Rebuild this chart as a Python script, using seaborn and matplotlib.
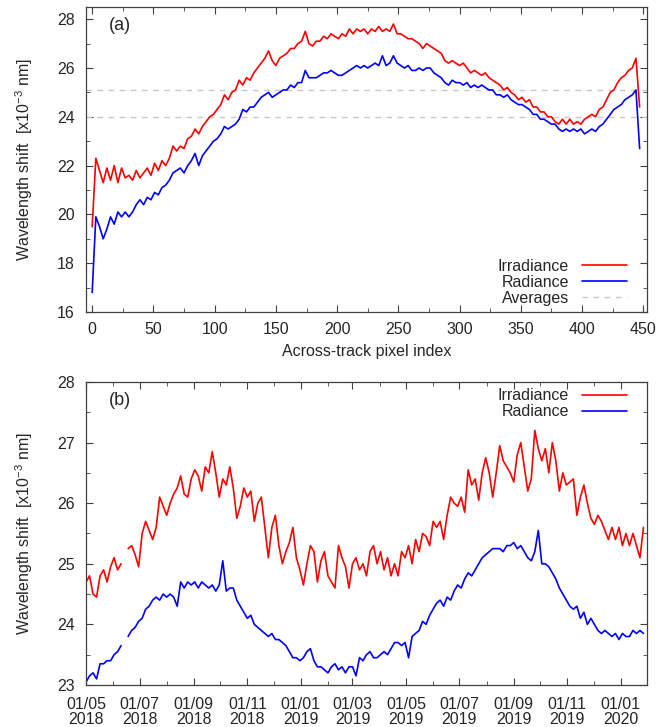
import numpy as np
import pandas as pd
import seaborn as sns
import matplotlib.pyplot as plt
import matplotlib.dates as mdates
from matplotlib.lines import Line2D
from matplotlib.ticker import MultipleLocator

# (a) wavelength shift per across-track pixel, every 3rd pixel
pixel_index = np.arange(0, 450, 3)
irr_pixel = [
    19.5, 22.3, 21.8, 21.3, 21.9, 21.4, 22.0, 21.3, 21.9, 21.5,
    21.6, 21.4, 21.8, 21.5, 21.7, 21.9, 21.6, 22.1, 21.8, 22.2,
    22.0, 22.3, 22.8, 22.6, 22.8, 22.7, 23.1, 23.2, 23.5, 23.3,
    23.6, 23.8, 24.0, 24.1, 24.3, 24.5, 24.9, 24.7, 25.0, 25.1,
    25.5, 25.3, 25.6, 25.5, 25.8, 26.0, 26.2, 26.4, 26.7, 26.3,
    26.1, 26.4, 26.5, 26.6, 26.8, 26.8, 27.0, 27.1, 27.5, 27.0,
    26.9, 27.1, 27.1, 27.3, 27.2, 27.4, 27.3, 27.2, 27.4, 27.3,
    27.6, 27.4, 27.6, 27.5, 27.6, 27.4, 27.6, 27.5, 27.7, 27.5,
    27.6, 27.5, 27.8, 27.4, 27.4, 27.3, 27.2, 27.2, 27.1, 27.0,
    26.8, 27.0, 26.9, 26.8, 26.7, 26.6, 26.3, 26.2, 26.3, 26.2,
    26.1, 26.2, 26.0, 25.8, 25.9, 25.8, 25.7, 25.8, 25.6, 25.5,
    25.4, 25.3, 25.1, 25.2, 25.0, 24.9, 24.7, 24.8, 24.6, 24.7,
    24.4, 24.4, 24.2, 24.2, 24.0, 24.0, 23.8, 23.7, 23.9, 23.7,
    23.9, 23.7, 23.8, 23.7, 23.9, 24.0, 24.1, 24.0, 24.3, 24.4,
    24.7, 25.0, 25.1, 25.4, 25.6, 25.7, 25.9, 26.0, 26.4, 24.4,
]
rad_pixel = [
    16.8, 19.9, 19.5, 19.0, 19.4, 19.9, 19.6, 20.1, 19.9, 20.1,
    19.9, 20.1, 20.4, 20.6, 20.4, 20.7, 20.6, 20.9, 20.8, 21.1,
    21.2, 21.4, 21.7, 21.8, 21.9, 21.7, 22.0, 22.2, 22.5, 22.0,
    22.4, 22.6, 22.8, 23.0, 23.1, 23.3, 23.6, 23.5, 23.6, 23.7,
    23.9, 24.3, 24.2, 24.4, 24.4, 24.6, 24.8, 24.9, 25.0, 24.8,
    24.9, 25.0, 25.1, 25.1, 25.3, 25.2, 25.4, 25.4, 25.9, 25.6,
    25.6, 25.6, 25.7, 25.8, 25.8, 25.9, 25.8, 25.7, 25.7, 25.8,
    25.9, 26.0, 26.1, 26.0, 26.1, 26.0, 26.1, 26.2, 26.1, 26.5,
    26.1, 26.2, 26.5, 26.2, 26.1, 26.0, 26.1, 25.9, 25.9, 26.0,
    25.9, 26.0, 26.0, 25.8, 25.7, 25.6, 25.4, 25.3, 25.5, 25.4,
    25.4, 25.3, 25.4, 25.2, 25.3, 25.2, 25.3, 25.2, 25.1, 25.1,
    24.9, 24.9, 24.8, 24.9, 24.7, 24.6, 24.5, 24.5, 24.4, 24.3,
    24.1, 24.1, 23.9, 23.9, 23.8, 23.7, 23.7, 23.5, 23.4, 23.5,
    23.4, 23.5, 23.4, 23.5, 23.3, 23.4, 23.5, 23.4, 23.6, 23.7,
    23.9, 24.1, 24.3, 24.4, 24.5, 24.7, 24.8, 24.9, 25.1, 22.7,
]
avg_irr = 25.1
avg_rad = 24.0

# (b) daily time series, every 4th day from 01/05/2018 (nan = data gap)
nan = np.nan
dates = pd.date_range('2018-05-01', periods=160, freq='4D')
irr_time = [
    24.7, 24.8, 24.5, 24.45, 24.8, 24.9, 24.7, 24.95, 25.1, 24.9,
    25.0, nan, 25.25, 25.3, 25.15, 24.95, 25.5, 25.7, 25.55, 25.4,
    25.6, 26.1, 25.95, 25.8, 26.0, 26.15, 26.25, 26.45, 26.15, 26.1,
    26.4, 26.55, 26.45, 26.2, 26.6, 26.5, 26.85, 26.5, 26.1, 26.4,
    26.3, 26.6, 26.25, 25.75, 25.95, 26.25, 26.1, 26.2, 25.7, 26.0,
    26.1, 25.6, 25.1, 25.6, 25.8, 25.3, 25.0, 25.2, 25.35, 25.6,
    25.1, 24.9, 24.65, 25.0, 25.3, 25.2, 24.7, 25.05, 25.2, 24.8,
    24.7, 24.6, 25.3, 25.1, 24.95, 24.6, 25.0, 25.1, 24.9, 25.0,
    24.8, 25.2, 25.3, 25.0, 25.2, 24.9, 25.1, 24.8, 25.0, 24.8,
    25.2, 25.1, 25.3, 25.0, 25.4, 25.2, 25.5, 25.45, 25.3, 25.7,
    25.6, 25.7, 25.4, 25.8, 26.1, 26.0, 25.95, 26.1, 25.85, 26.55,
    26.3, 26.4, 26.05, 26.5, 26.75, 26.5, 26.1, 26.5, 26.95, 26.7,
    26.6, 26.5, 26.35, 26.8, 27.0, 26.6, 26.2, 26.4, 27.2, 26.9,
    26.7, 26.9, 26.5, 27.0, 26.7, 26.2, 26.5, 26.3, 26.35, 26.4,
    25.8, 26.1, 26.3, 26.0, 25.75, 25.65, 25.8, 25.7, 25.55, 25.4,
    25.6, 25.4, 25.6, 25.3, 25.5, 25.3, 25.5, 25.3, 25.1, 25.6,
]
rad_time = [
    23.05, 23.15, 23.2, 23.1, 23.35, 23.35, 23.4, 23.4, 23.5, 23.55,
    23.65, nan, 23.8, 23.9, 23.95, 24.05, 24.1, 24.25, 24.3, 24.4,
    24.45, 24.4, 24.5, 24.45, 24.5, 24.45, 24.3, 24.7, 24.6, 24.7,
    24.65, 24.7, 24.6, 24.7, 24.65, 24.6, 24.65, 24.55, 24.65, 25.05,
    24.55, 24.6, 24.6, 24.4, 24.3, 24.2, 24.1, 24.15, 24.0, 23.95,
    23.9, 23.85, 23.8, 23.85, 23.75, 23.75, 23.7, 23.65, 23.55, 23.45,
    23.45, 23.4, 23.45, 23.55, 23.6, 23.4, 23.3, 23.3, 23.25, 23.2,
    23.3, 23.35, 23.25, 23.3, 23.2, 23.3, 23.3, 23.15, 23.45, 23.4,
    23.5, 23.55, 23.45, 23.45, 23.5, 23.55, 23.5, 23.6, 23.7, 23.7,
    23.65, 23.7, 23.45, 23.8, 23.85, 23.9, 24.05, 24.0, 24.15, 24.25,
    24.35, 24.4, 24.3, 24.45, 24.4, 24.55, 24.65, 24.6, 24.75, 24.85,
    24.8, 24.9, 25.0, 25.1, 25.15, 25.2, 25.25, 25.25, 25.25, 25.2,
    25.3, 25.3, 25.35, 25.25, 25.3, 25.2, 25.1, 25.05, 25.2, 25.55,
    25.0, 25.0, 24.95, 24.85, 24.75, 24.6, 24.5, 24.4, 24.3, 24.25,
    24.3, 24.1, 24.2, 24.0, 24.1, 24.0, 23.9, 23.85, 23.9, 23.85,
    23.8, 23.85, 23.75, 23.85, 23.8, 23.8, 23.9, 23.85, 23.9, 23.85,
]
date_ticks = pd.date_range('2018-05-01', '2020-01-01', freq='2MS')
date_labels = [d.strftime('%d/%m\n%Y') for d in date_ticks]

RED = '#ff0000'
BLUE = '#0000ff'
GREY = '#c8c8c8'
FS = 11.5

sns.set_style('ticks')
plt.rcParams['font.family'] = ['Liberation Sans', 'DejaVu Sans']
plt.rcParams['mathtext.default'] = 'regular'


def segments(x, y, name):
    # split on nan so gaps stay gaps
    df = pd.DataFrame({name: x, 'shift': y})
    df['seg'] = df['shift'].isna().cumsum()
    return df.dropna()


def style_axes(ax):
    for sp in ax.spines.values():
        sp.set_color('#404040')
        sp.set_linewidth(0.9)
    ax.tick_params(which='both', direction='in', top=True, right=True,
                   color='#404040', labelsize=FS)
    ax.tick_params(which='major', length=5)
    ax.tick_params(which='minor', length=3)
    ax.tick_params(axis='y', pad=8)


ylab = 'Wavelength shift  [x10$^{-3}$ nm]'

fig = plt.figure(figsize=(6.67, 7.27), dpi=100)
ax1 = fig.add_axes([0.129, 0.5708, 0.841, 0.4196])
ax2 = fig.add_axes([0.129, 0.0578, 0.841, 0.4168])

# ---- panel (a)
ax1.axhline(avg_irr, color=GREY, ls=(0, (4, 4)), lw=1, zorder=1)
ax1.axhline(avg_rad, color=GREY, ls=(0, (4, 4)), lw=1, zorder=1)
sns.lineplot(data=segments(pixel_index, irr_pixel, 'pix'), x='pix', y='shift',
             units='seg', estimator=None, color=RED, lw=1.2, ax=ax1, zorder=3)
sns.lineplot(data=segments(pixel_index, rad_pixel, 'pix'), x='pix', y='shift',
             units='seg', estimator=None, color=BLUE, lw=1.2, ax=ax1, zorder=3)
ax1.set_xlim(-5, 453)
ax1.set_ylim(16, 28.5)
ax1.xaxis.set_major_locator(MultipleLocator(50))
ax1.xaxis.set_minor_locator(MultipleLocator(25))
ax1.yaxis.set_major_locator(MultipleLocator(2))
ax1.yaxis.set_minor_locator(MultipleLocator(1))
style_axes(ax1)
ax1.tick_params(axis='x', pad=7)
ax1.set_xlabel('Across-track pixel index', fontsize=FS, labelpad=5)
ax1.set_ylabel(ylab, fontsize=FS, labelpad=16)
ax1.text(0.04, 0.967, '(a)', transform=ax1.transAxes, fontsize=13, va='top')
h_a = [Line2D([], [], color=RED, lw=1.2), Line2D([], [], color=BLUE, lw=1.2),
       Line2D([], [], color=GREY, lw=1, ls=(0, (4, 4)))]
ax1.legend(h_a, ['Irradiance', 'Radiance', 'Averages'], loc='lower right',
           bbox_to_anchor=(0.975, 0.0), borderaxespad=0, markerfirst=False,
           frameon=False, handlelength=2.8, labelspacing=0.05, fontsize=FS)

# ---- panel (b)
sns.lineplot(data=segments(dates, irr_time, 'date'), x='date', y='shift',
             units='seg', estimator=None, color=RED, lw=1.2, ax=ax2)
sns.lineplot(data=segments(dates, rad_time, 'date'), x='date', y='shift',
             units='seg', estimator=None, color=BLUE, lw=1.2, ax=ax2)
ax2.set_xlim(pd.Timestamp('2018-05-01'), pd.Timestamp('2020-01-31'))
ax2.set_ylim(23, 28)
ax2.set_xticks(date_ticks)
ax2.set_xticklabels(date_labels, linespacing=1.0)
ax2.xaxis.set_minor_locator(mdates.MonthLocator())
ax2.yaxis.set_major_locator(MultipleLocator(1))
ax2.yaxis.set_minor_locator(MultipleLocator(0.5))
style_axes(ax2)
ax2.tick_params(axis='x', pad=9)
ax2.set_xlabel('')
ax2.set_ylabel(ylab, fontsize=FS, labelpad=16)
ax2.text(0.04, 0.967, '(b)', transform=ax2.transAxes, fontsize=13, va='top')
h_b = [Line2D([], [], color=RED, lw=1.2), Line2D([], [], color=BLUE, lw=1.2)]
ax2.legend(h_b, ['Irradiance', 'Radiance'], loc='upper right',
           bbox_to_anchor=(0.975, 1.0), borderaxespad=0, markerfirst=False,
           frameon=False, handlelength=2.8, labelspacing=0.05, fontsize=FS)

fig.savefig('out.png', dpi=100)
